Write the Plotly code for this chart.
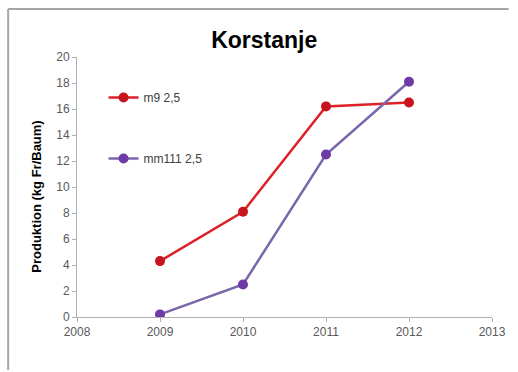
import plotly.graph_objects as go

years = [2009, 2010, 2011, 2012]
m9_values = [4.3, 8.1, 16.2, 16.5]
mm111_values = [0.2, 2.5, 12.5, 18.1]
series_names = ["m9 2,5", "mm111 2,5"]
x_ticks = [2008, 2009, 2010, 2011, 2012, 2013]
y_ticks = [0, 2, 4, 6, 8, 10, 12, 14, 16, 18, 20]

W, H = 518, 372
L, R, T, B = 77, 19, 57, 55

fig = go.Figure()
fig.add_trace(go.Scatter(
    x=years, y=m9_values, name=series_names[0], mode="lines+markers",
    line=dict(color="#dc2128", width=2.5),
    marker=dict(color="#c8141f", size=10),
    legendgroup="a",
))
fig.add_trace(go.Scatter(
    x=years, y=mm111_values, name=series_names[1], mode="lines+markers",
    line=dict(color="#7a66aa", width=2.5),
    marker=dict(color="#6e3aa8", size=10),
    legendgroup="b",
))

pw, ph = W - L - R, H - T - B
def px_x(p):
    return (p - L) / pw
def px_y(p):
    return (H - B - p) / ph

fig.update_layout(
    width=W, height=H,
    margin=dict(l=L, r=R, t=T, b=B, pad=0),
    paper_bgcolor="white", plot_bgcolor="white",
    font=dict(family="Liberation Sans, Arial, sans-serif", color="#595959", size=12),
    title=dict(text="<b>Korstanje</b>", x=0.51, xanchor="center", y=1 - 40 / H, yanchor="middle",
               font=dict(size=23, color="black")),
    showlegend=True,
    legend=dict(x=px_x(104), y=px_y(83), xanchor="left", yanchor="top",
                bgcolor="rgba(0,0,0,0)", tracegroupgap=42,
                font=dict(size=12, color="#404040"), itemwidth=30),
    xaxis=dict(range=[2008, 2013], tickvals=x_ticks, showgrid=False, zeroline=False,
               showline=True, linecolor="#b0b0b0", linewidth=1,
               ticks="outside", ticklen=4, tickcolor="#b0b0b0",
               tickfont=dict(size=12, color="#595959")),
    yaxis=dict(range=[0, 20], tickvals=y_ticks, showgrid=False, zeroline=False,
               showline=True, linecolor="#b0b0b0", linewidth=1,
               ticks="outside", ticklen=4, tickcolor="#b0b0b0",
               tickfont=dict(size=12, color="#595959")),
    annotations=[dict(text="<b>Produktion (kg Fr/Baum)</b>", textangle=-90,
                      xref="paper", yref="paper", x=px_x(35), y=px_y(197),
                      xanchor="center", yanchor="middle", showarrow=False,
                      font=dict(size=13, color="black"))],
    shapes=[
        dict(type="line", xref="paper", yref="paper",
             x0=px_x(7), x1=px_x(516), y0=px_y(9), y1=px_y(9),
             line=dict(color="#a6a6a6", width=2), layer="below"),
        dict(type="line", xref="paper", yref="paper",
             x0=px_x(7), x1=px_x(7), y0=px_y(9), y1=px_y(370),
             line=dict(color="#a6a6a6", width=2), layer="below"),
    ],
)

fig.write_html("out.html")
